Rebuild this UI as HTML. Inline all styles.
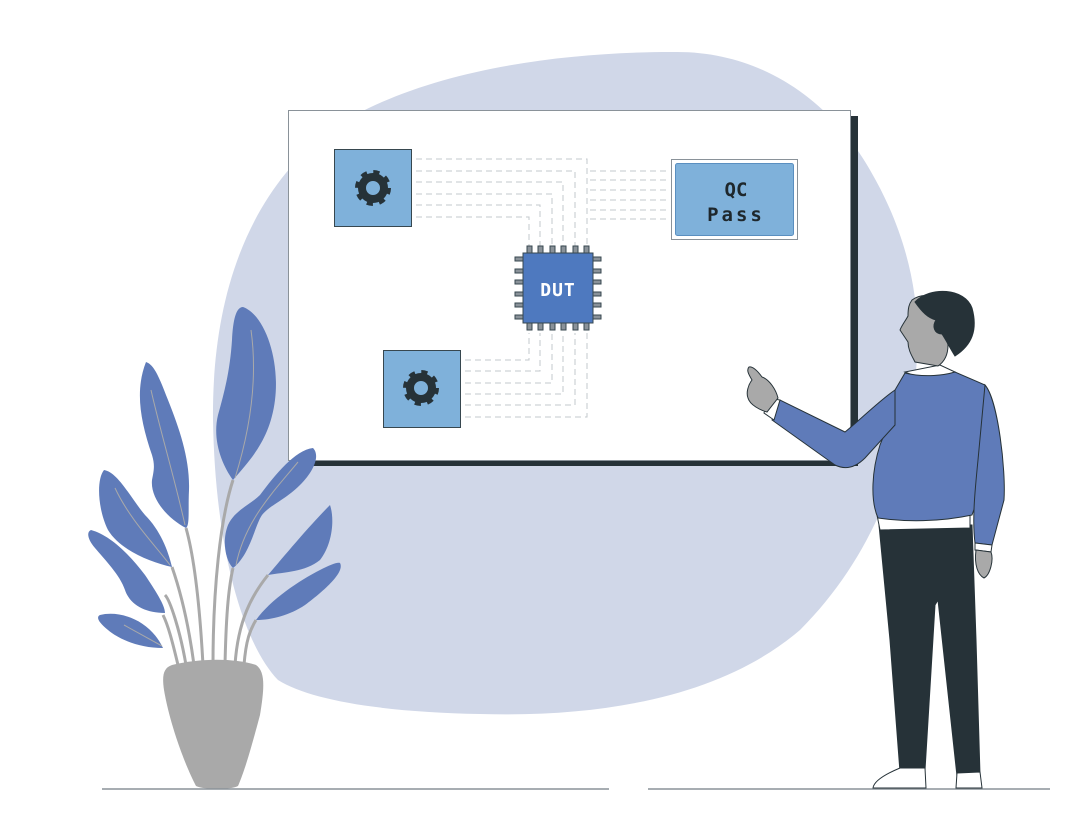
<!DOCTYPE html>
<html><head><meta charset="utf-8"><style>
html,body{margin:0;padding:0;background:#fff;}
svg{display:block;}
text{font-family:"DejaVu Sans Mono","Liberation Mono",monospace;font-weight:bold;}
</style></head><body>
<svg width="1082" height="815" viewBox="0 0 1082 815" xmlns="http://www.w3.org/2000/svg">
<path d="M672 52 C760 50 830 100 870 170 C905 230 925 300 915 380 C905 470 870 560 800 630 C730 690 620 718 480 714 C380 712 310 700 278 680 C240 640 215 540 213 420 C212 310 240 200 330 130 C420 70 560 52 672 52 Z" fill="#d0d7e8"/>
<rect x="296" y="116" width="562" height="350" fill="#263238"/>
<rect x="288.5" y="110.5" width="562" height="350" fill="#fff" stroke="#8a9299" stroke-width="1"/>
<g fill="none" stroke="#c3c8cc" stroke-width="1" stroke-dasharray="6 4">
<path d="M416 159H587V246"/><path d="M416 171H575V246"/><path d="M416 182H563V246"/>
<path d="M416 194H552V246"/><path d="M416 205H540V246"/><path d="M416 217H529V246"/>
<path d="M590 171H670"/><path d="M590 180H670"/><path d="M590 190H670"/>
<path d="M590 200H670"/><path d="M590 210H670"/><path d="M590 219H670"/>
<path d="M465 360H529V333"/><path d="M465 371H540V333"/><path d="M465 383H552V333"/>
<path d="M465 394H563V333"/><path d="M465 405H575V333"/><path d="M465 417H587V333"/>
</g>
<rect x="334.5" y="149.5" width="77" height="77" fill="#7fb1da" stroke="#37474f"/>
<rect x="383.5" y="350.5" width="77" height="77" fill="#7fb1da" stroke="#37474f"/>
<g fill="none" stroke="#263238">
<circle cx="373" cy="188" r="11" stroke-width="8"/>
<circle cx="373" cy="188" r="15.5" stroke-width="5" stroke-dasharray="6 6.2"/>
<circle cx="421" cy="388" r="11" stroke-width="8"/>
<circle cx="421" cy="388" r="15.5" stroke-width="5" stroke-dasharray="6 6.2"/>
</g>
<rect x="671.5" y="159.5" width="126" height="80" fill="#fff" stroke="#8a9299"/>
<rect x="675.5" y="163.5" width="118" height="72" rx="2" fill="#7fb1da" stroke="#5a8fc0"/>
<text x="736" y="196" font-size="19" text-anchor="middle" fill="#1e272c">QC</text>
<text x="736" y="221" font-size="19" text-anchor="middle" fill="#1e272c" letter-spacing="3">Pass</text>
<g fill="#8a9299" stroke="#37474f" stroke-width="1">
<rect x="527" y="246" width="5" height="8"/><rect x="538" y="246" width="5" height="8"/><rect x="550" y="246" width="5" height="8"/>
<rect x="561" y="246" width="5" height="8"/><rect x="573" y="246" width="5" height="8"/><rect x="584" y="246" width="5" height="8"/>
<rect x="527" y="322" width="5" height="8"/><rect x="538" y="322" width="5" height="8"/><rect x="550" y="322" width="5" height="8"/>
<rect x="561" y="322" width="5" height="8"/><rect x="573" y="322" width="5" height="8"/><rect x="584" y="322" width="5" height="8"/>
<rect x="515" y="257" width="9" height="4"/><rect x="515" y="269" width="9" height="4"/><rect x="515" y="280" width="9" height="4"/>
<rect x="515" y="292" width="9" height="4"/><rect x="515" y="303" width="9" height="4"/><rect x="515" y="315" width="9" height="4"/>
<rect x="592" y="257" width="9" height="4"/><rect x="592" y="269" width="9" height="4"/><rect x="592" y="280" width="9" height="4"/>
<rect x="592" y="292" width="9" height="4"/><rect x="592" y="303" width="9" height="4"/><rect x="592" y="315" width="9" height="4"/>
</g>
<rect x="523" y="253" width="70" height="70" fill="#4e79bf" stroke="#37474f"/>
<text x="558" y="296" font-size="18" text-anchor="middle" fill="#fff" letter-spacing="1">DUT</text>
<g fill="none" stroke="#a9a9a9" stroke-width="3">
<path d="M178 665 C172 640 168 625 163 615"/>
<path d="M186 665 C180 630 170 600 165 595"/>
<path d="M194 665 C188 620 180 590 172 567"/>
<path d="M203 665 C200 610 195 560 186 528"/>
<path d="M213 665 C213 590 220 520 233 480"/>
<path d="M225 665 C226 620 228 590 233 568"/>
<path d="M235 665 C238 620 252 595 268 575"/>
<path d="M244 665 C246 640 250 630 256 620"/>
</g>
<g fill="#5f7bb9">
<path d="M243 307 C265 315 280 360 275 400 C270 440 250 460 233 480 C222 465 212 440 218 415 C225 390 230 370 232 340 C233 320 236 307 243 307 Z"/>
<path d="M146 362 C155 365 160 380 168 400 C180 430 190 460 189 490 C188 510 190 525 186 528 C170 520 150 500 152 480 C154 470 155 465 152 455 C140 420 135 390 146 362 Z"/>
<path d="M104 470 C118 472 132 500 145 515 C160 530 168 550 172 567 C150 562 120 550 108 530 C98 510 96 480 104 470 Z"/>
<path d="M91 530 C110 535 130 555 145 575 C155 590 165 605 165 613 C145 613 130 605 125 590 C120 575 105 560 95 548 C88 540 86 532 91 530 Z"/>
<path d="M100 615 C120 610 150 620 163 648 C140 648 120 640 108 630 C98 622 96 617 100 615 Z"/>
<path d="M313 448 C320 455 315 470 300 485 C285 500 270 505 262 515 C255 525 250 555 233 568 C225 560 222 540 228 525 C235 510 250 505 260 495 C275 475 295 450 313 448 Z"/>
<path d="M330 505 C335 520 332 545 320 560 C305 572 285 572 268 575 C285 555 310 525 330 505 Z"/>
<path d="M340 563 C345 572 325 590 305 605 C290 615 272 620 256 620 C270 600 300 580 320 570 C330 565 337 562 340 563 Z"/>
</g>
<g fill="none" stroke="#a9a9a9" stroke-width="1">
<path d="M251 330 C258 380 250 430 235 478"/>
<path d="M151 390 C160 430 175 480 185 525"/>
<path d="M115 488 C130 520 155 545 170 565"/>
<path d="M298 462 C275 490 245 520 236 565"/>
<path d="M124 625 L162 646"/>
</g>
<path d="M172 665 C200 658 235 658 256 665 C266 672 264 690 260 715 C252 745 245 770 238 786 C230 790 205 790 196 786 C185 765 170 725 164 690 C162 676 163 668 172 665 Z" fill="#a9a9a9"/>
<line x1="102" y1="789" x2="609" y2="789" stroke="#8a9299" stroke-width="1.5"/>
<line x1="648" y1="789" x2="1050" y2="789" stroke="#8a9299" stroke-width="1.5"/>
<g stroke="#263238" stroke-width="1">
<path d="M879 525 L972 525 L976 640 L980 775 L957 776 L938 600 L935 605 L925 770 L900 772 L890 640 Z" fill="#263238"/>
<path d="M900 768 L925 768 L926 788 L873 788 C874 780 888 773 900 768 Z" fill="#fff"/>
<path d="M957 773 L980 772 L982 788 L956 788 Z" fill="#fff"/>
<path d="M877 515 L970 512 L970 528 L880 530 Z" fill="#fff"/>
<path d="M905 372 L940 365 L955 372 L930 382 Z" fill="#fff"/>
<path d="M905 373 C925 378 945 375 955 372 L985 385 C995 400 992 440 988 470 L972 515 C940 522 905 522 878 518 C870 500 872 470 880 445 L890 420 L895 390 Z" fill="#5f7bb9"/>
<path d="M985 385 C998 400 1006 470 1004 500 L992 545 L975 543 C972 520 975 490 978 460 Z" fill="#5f7bb9"/>
<path d="M975 543 L992 545 L991 552 L975 550 Z" fill="#fff"/>
<path d="M976 550 L991 552 C994 560 990 575 984 578 C978 575 974 565 976 550 Z" fill="#a9a9a9"/>
<path d="M895 390 C880 400 860 420 845 432 L780 400 L772 420 L835 465 C845 470 855 468 865 458 L895 425 Z" fill="#5f7bb9"/>
<path d="M768 398 L780 400 L774 420 L764 413 Z" fill="#fff"/>
<path d="M749 367 C752 366 757 370 762 377 C770 380 776 390 778 398 L767 412 C760 410 750 405 748 398 C746 393 748 385 752 380 C749 375 746 370 749 367 Z" fill="#a9a9a9"/>
<path d="M912 300 C920 294 932 294 940 300 L948 345 C948 356 944 362 938 366 L915 362 C912 356 908 350 908 342 L900 330 C902 325 906 320 908 316 C908 308 909 304 912 300 Z" fill="#a9a9a9"/>
<path d="M915 302 C930 286 965 288 972 308 C978 330 972 345 955 356 C950 348 946 340 942 334 C934 334 932 326 936 320 C928 318 922 312 915 302 Z" fill="#263238"/>
</g>
</svg>
</body></html>
